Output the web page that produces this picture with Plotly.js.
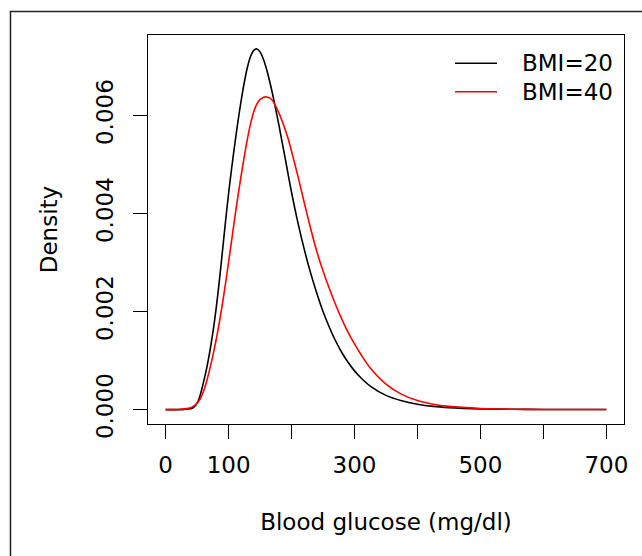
<!DOCTYPE html>
<html>
<head>
<meta charset="utf-8">
<script src="https://cdn.plot.ly/plotly-3.0.1.min.js"></script>
<style>
  html, body { margin: 0; padding: 0; background: #ffffff; }
  #chart { width: 642px; height: 556px; }
</style>
</head>
<body>
<div id="chart"></div>
<script>
// Blood glucose values (mg/dl) at which the densities were read
var glucose = [0, 10, 20, 30, 40, 45, 50, 55, 60, 65, 70, 75, 80, 85, 90, 95,
  100, 105, 110, 115, 120, 125, 130, 135, 140, 145, 150, 155, 160, 165, 170,
  175, 180, 185, 190, 195, 200, 210, 220, 230, 240, 250, 260, 270, 280, 290,
  300, 310, 325, 350, 375, 400, 425, 450, 500, 550, 600, 650, 700];

// Density for BMI = 20 (black)
var densityBMI20 = [0, 0, 0, 0.000005, 0.00002, 0.00005, 0.00013, 0.00030,
  0.00055, 0.00083, 0.00117, 0.00157, 0.00204, 0.00259, 0.00320, 0.00382,
  0.00441, 0.00494, 0.00543, 0.00589, 0.00631, 0.00668, 0.00699, 0.00721,
  0.00733, 0.00736, 0.00730, 0.00716, 0.00696, 0.00671, 0.00643, 0.00612,
  0.00580, 0.00546, 0.00512, 0.00477, 0.00443, 0.00382, 0.00328, 0.00280,
  0.00238, 0.00200, 0.00168, 0.00140, 0.00116, 0.00096, 0.00079, 0.00065,
  0.00048, 0.00029, 0.00018, 0.00011, 0.000065, 0.00004, 0.000015,
  0.000006, 0.000002, 0.000001, 0.0000005];

// Density for BMI = 40 (red)
var densityBMI40 = [0, 0, 0.000003, 0.000015, 0.00004, 0.000075, 0.00013,
  0.00022, 0.00037, 0.00057, 0.00082, 0.00110, 0.00141, 0.00176, 0.00214,
  0.00256, 0.00301, 0.00347, 0.00393, 0.00437, 0.00478, 0.00517, 0.00553,
  0.00584, 0.00608, 0.00624, 0.00633, 0.00637, 0.00638, 0.00636, 0.00630,
  0.00619, 0.00605, 0.00589, 0.00571, 0.00551, 0.00527, 0.00477, 0.00423,
  0.00371, 0.00323, 0.00283, 0.00247, 0.00214, 0.00184, 0.00157, 0.00134,
  0.00113, 0.00085, 0.00052, 0.00031, 0.000185, 0.00011, 0.000065, 0.000023,
  0.000008, 0.000003, 0.000001, 0.0000005];

var seriesNames = ["BMI=20", "BMI=40"];
var seriesColors = ["#000000", "#ff0000"];
var xTickVals = [0, 100, 200, 300, 400, 500, 600, 700];
var xTickText = ["0", "100", "", "300", "", "500", "", "700"];
var yTickVals = [0, 0.002, 0.004, 0.006];
var yTickText = ["0.000", "0.002", "0.004", "0.006"];

var FONT = "DejaVu Sans, Liberation Sans, sans-serif";

var traces = [
  {
    x: glucose, y: densityBMI20, name: seriesNames[0], type: "scatter", mode: "lines",
    line: { color: seriesColors[0], width: 1.6, shape: "spline", smoothing: 0.8 }
  },
  {
    x: glucose, y: densityBMI40, name: seriesNames[1], type: "scatter", mode: "lines",
    line: { color: seriesColors[1], width: 1.6, shape: "spline", smoothing: 0.8 }
  }
];

// legend drawn manually (R style, no box)
var legendY = [0.9273, 0.8543];
var legendShapes = seriesNames.map(function (n, i) {
  return {
    type: "line", xref: "paper", yref: "paper",
    x0: 0.645, x1: 0.7332, y0: legendY[i], y1: legendY[i],
    line: { color: seriesColors[i], width: 1.6 }
  };
});
var legendAnnots = seriesNames.map(function (n, i) {
  return {
    xref: "paper", yref: "paper", x: 0.7815, y: legendY[i],
    xanchor: "left", yanchor: "middle", showarrow: false, text: n,
    font: { family: FONT, size: 23, color: "#000000" }
  };
});

var layout = {
  width: 642, height: 556,
  margin: { l: 148, r: 18, t: 35, b: 132, pad: 0 },
  paper_bgcolor: "#ffffff", plot_bgcolor: "#ffffff",
  font: { family: FONT, size: 23, color: "#000000" },
  showlegend: false,
  xaxis: {
    range: [-28, 728], showgrid: false, zeroline: false,
    showline: true, mirror: true, linecolor: "#000000", linewidth: 1.3,
    ticks: "outside", ticklen: 14, tickwidth: 1.3, tickcolor: "#000000",
    tickvals: xTickVals, ticktext: xTickText, ticklabelstandoff: 6,
    tickfont: { family: FONT, size: 23, color: "#000000" },
    title: { text: "Blood glucose (mg/dl)", font: { family: FONT, size: 23, color: "#000000" }, standoff: 37 },
    automargin: false
  },
  yaxis: {
    range: [-0.000294, 0.007644], showgrid: false, zeroline: false,
    showline: true, mirror: true, linecolor: "#000000", linewidth: 1.3,
    ticks: "outside", ticklen: 14, tickwidth: 1.3, tickcolor: "#000000",
    tickvals: yTickVals, ticktext: yTickText, tickangle: -90, ticklabelstandoff: 11,
    tickfont: { family: FONT, size: 23, color: "#000000" },
    title: { text: "Density", font: { family: FONT, size: 23, color: "#000000" }, standoff: 27 },
    automargin: false
  },
  shapes: [
    {
      type: "rect", xref: "paper", yref: "paper",
      x0: -0.2889, x1: 1.2, y0: -0.6, y1: 1.0604,
      line: { color: "#222222", width: 1.5 }, fillcolor: "rgba(0,0,0,0)", layer: "below"
    }
  ].concat(legendShapes),
  annotations: legendAnnots
};

Plotly.newPlot("chart", traces, layout, { displayModeBar: false, staticPlot: true });
</script>
</body>
</html>
